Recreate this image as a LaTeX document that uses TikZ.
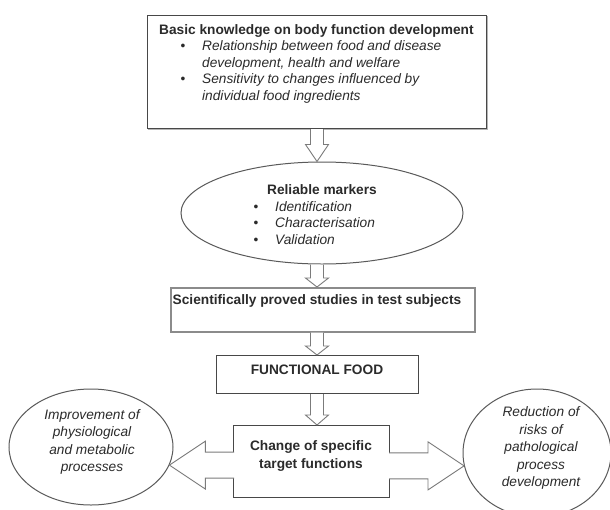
\documentclass[tikz,border=0pt]{standalone}
\usepackage{fontspec}
\setmainfont{Liberation Sans}
\usetikzlibrary{shapes.geometric,calc}
\definecolor{txt}{HTML}{2B2B2B}
\definecolor{ln}{HTML}{5A5A5A}
\definecolor{shd}{HTML}{B5B5B5}
\newcommand\bl[1]{\makebox[21.5pt][l]{\textbullet}\textit{#1}}
% vertical block arrow: #1 start anchor, #2 end anchor, #3 head length
\newcommand\vbarrow[3]{%
  \fill[white] ($(#1 -| ax)+(-6.5,0)$) -- ($(#2 -| ax)+(-6.5,-#3)$) -- ($(#2 -| ax)+(-11.5,-#3)$) -- (#2 -| ax)
     -- ($(#2 -| ax)+(11.5,-#3)$) -- ($(#2 -| ax)+(6.5,-#3)$) -- ($(#1 -| ax)+(6.5,0)$) -- cycle;
  \draw[arrline] ($(#1 -| ax)+(-6.5,0)$) -- ($(#2 -| ax)+(-6.5,-#3)$) -- ($(#2 -| ax)+(-11.5,-#3)$) -- (#2 -| ax)
     -- ($(#2 -| ax)+(11.5,-#3)$) -- ($(#2 -| ax)+(6.5,-#3)$) -- ($(#1 -| ax)+(6.5,0)$);}
% horizontal block arrow: #1 start (on box), #2 tip, #3 head length (signed toward tip)
\newcommand\hbarrow[3]{%
  \fill[white] ($(#1)+(0,-13)$) -- ($(#2)+(-#3,-13)$) -- ($(#2)+(-#3,-24)$) -- (#2)
     -- ($(#2)+(-#3,24)$) -- ($(#2)+(-#3,13)$) -- ($(#1)+(0,13)$) -- cycle;
  \draw[arrline] ($(#1)+(0,-13)$) -- ($(#2)+(-#3,-13)$) -- ($(#2)+(-#3,-24)$) -- (#2)
     -- ($(#2)+(-#3,24)$) -- ($(#2)+(-#3,13)$) -- ($(#1)+(0,13)$);}
\begin{document}
\begin{tikzpicture}[x=1pt,y=-1pt,
  every node/.style={font=\fontsize{13.7}{16.5}\selectfont, text=txt, inner sep=0pt},
  boxst/.style={draw=ln!80!black, line width=1pt, fill=white, anchor=north west, rectangle},
  ellst/.style={draw=ln, line width=1pt, fill=white, ellipse},
  sidetext/.style={align=center, font=\fontsize{13.7}{17.5}\selectfont\itshape},
  arrline/.style={draw=ln!80, line width=0.9pt, line join=miter}]
\useasboundingbox (0,0) rectangle (610,509);
\clip (0,0) rectangle (610,509);
\fill[white] (0,0) rectangle (610,509);
\coordinate (ax) at (317,0);

% top box
\draw[shd, line width=1.2pt] (487.5,16) -- (487.5,129.5) -- (148,129.5);
\node[boxst, minimum width=339pt, minimum height=113pt] (top) at (147,15) {};
\node[anchor=north west, align=left] (toptext) at (159,24)
  {\textbf{Basic knowledge on body function development}\\
   \hspace*{21.5pt}\bl{Relationship between food and disease}\\
   \hspace*{43pt}\textit{development, health and welfare}\\
   \hspace*{21.5pt}\bl{Sensitivity to changes influenced by}\\
   \hspace*{43pt}\textit{individual food ingredients}};

% markers ellipse
\node[ellst, minimum width=282pt, minimum height=102pt] (mark) at (322,213) {};
\node (marktitle) at (322,190) {\textbf{Reliable markers}};
\node[anchor=north west, align=left] (marklist) at (253.5,201)
  {\bl{Identification}\\ \bl{Characterisation}\\ \bl{Validation}};

% studies box
\node[boxst, draw=ln!70, line width=1.5pt, minimum width=304pt, minimum height=44pt] (sci) at (170,287) {};
\node (scitext) at (317,301) {\textbf{Scientifically proved studies in test subjects}};

% functional food
\node[boxst, minimum width=202pt, minimum height=38pt] (ff) at (216,355) {};
\node (fftext) at (317,370) {\textbf{FUNCTIONAL FOOD}};

% change box
\node[boxst, minimum width=156pt, minimum height=72pt] (chg) at (233,425) {};
\node[align=center, font=\fontsize{13.7}{18}\selectfont\bfseries] (chgtext) at (311,456)
  {Change of specific\\target functions};

% side ellipses
\node[ellst, minimum width=164pt, minimum height=116pt] (imp) at (91,447) {};
\node[sidetext] (imptext) at (92,442)
  {Improvement of\\physiological\\and metabolic\\processes};
\node[ellst, minimum width=148pt, minimum height=128pt] (red) at (537,453) {};
\node[sidetext] (redtext) at (541,448)
  {Reduction of\\risks of\\pathological\\process\\development};

% vertical arrows
\vbarrow{top.south}{mark.north}{17}
\fill[ln!60!black] ($(mark.south -| ax)+(-6.5,0)$) rectangle ($(mark.south -| ax)+(6.5,5)$);
\vbarrow{mark.south}{sci.north}{9}
\fill[ln!60!black] ($(sci.south -| ax)+(-6.5,0)$) rectangle ($(sci.south -| ax)+(6.5,5)$);
\vbarrow{sci.south}{ff.north}{9}
\vbarrow{ff.south}{chg.north}{10}

% horizontal arrows
\coordinate (ltip) at (imp.-13.5);
\coordinate (lstart) at ($(ltip -| chg.west)+(1,0)$);
\coordinate (rtip) at (red.190.2);
\coordinate (rstart) at ($(rtip -| chg.east)+(-1,0)$);
\hbarrow{lstart}{ltip}{-36}
\hbarrow{rstart}{rtip}{36}
\end{tikzpicture}
\end{document}
